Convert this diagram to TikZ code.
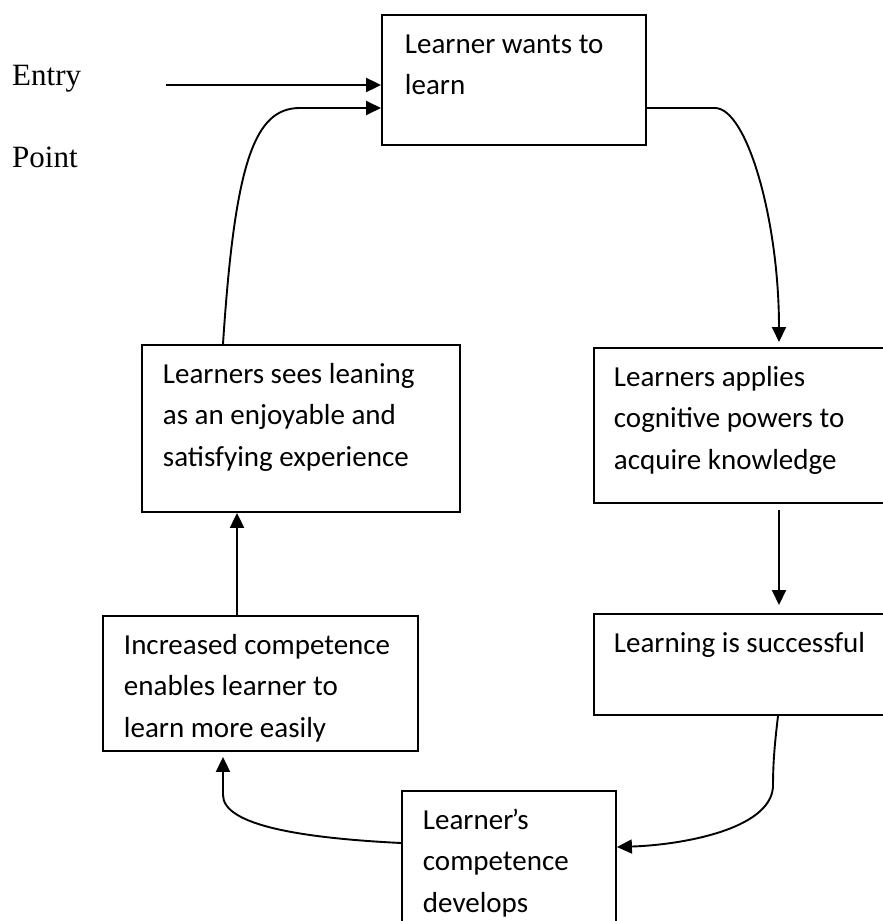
\documentclass[tikz,border=0pt]{standalone}
\usepackage{fontspec}
\newfontfamily\boxfont{Carlito}
\newfontfamily\labelfont{Liberation Serif}
\usetikzlibrary{arrows.meta}

% Box contents: width, height, left padding, text (first baseline 38.5pt below the top)
\newcommand\boxbody[4]{%
  \begin{minipage}[t][#2pt][t]{#1pt}%
    \boxfont\fontsize{29pt}{41.5pt}\selectfont\raggedright
    \leftskip=#3pt\relax
    \rule{0pt}{38.5pt}#4%
  \end{minipage}}

\begin{document}
\begin{tikzpicture}[x=1pt,y=-1pt,
  stage/.style={draw, line width=1.9pt, inner sep=0pt, anchor=north west},
  link/.style={line width=1.9pt, -{Triangle[length=15pt,width=14pt]}},
  entrylink/.style={line width=2.4pt, -{Triangle[length=15pt,width=14pt]}},
  side/.style={font=\labelfont\fontsize{31pt}{37pt}\selectfont, inner sep=0pt, anchor=base west}]

\useasboundingbox (0,0) rectangle (883,921);
\clip (0,0) rectangle (883,921);

% stages of the cycle
\node[stage] (want)      at (381,14)  {\boxbody{264}{130}{23}{Learner wants to\\learn}};
\node[stage] (apply)     at (593,347) {\boxbody{310}{155}{20}{Learners applies\\cognitive powers to\\acquire knowledge}};
\node[stage] (success)   at (593,613) {\boxbody{310}{101}{20}{Learning is successful}};
\node[stage] (develops)  at (401,790) {\boxbody{214}{160}{21}{Learner\kern-1.5pt’s\\competence\\develops}};
\node[stage] (increased) at (102,615) {\boxbody{315}{135}{21}{Increased competence\\enables learner to\\learn more easily}};
\node[stage] (sees)      at (141,344) {\boxbody{318}{167}{21}{Learners sees leaning\\as an enjoyable and\\satisfying experience}};

% entry point
\node[side] (entrytxt) at (12,85)  {Entry};
\node[side] (pointtxt) at (12,167) {Point};
\coordinate (entrystart) at (166,85);
\draw[entrylink] (entrystart) -- ([yshift=-71pt]want.north west);

% connectors around the cycle
\draw[link] ([yshift=-94pt]want.north east) -- ++(68,0)
  .. controls ++(32,0) and (779,220) .. ([xshift=186pt,yshift=5pt]apply.north west);
\draw[link] ([xshift=186pt,yshift=-6pt]apply.south west) -- ([xshift=186pt,yshift=8pt]success.north west);
\draw[link] ([xshift=185pt]success.south west)
  .. controls ++(-3,26) and (773,760) .. (773,787)
  .. controls (770,830) and (680,845) .. ([yshift=-57pt]develops.north east);
\draw[link] ([yshift=-53pt]develops.north west)
  .. controls (300,838) and (223,825) .. (223,795)
  -- ([xshift=121pt,yshift=-5pt]increased.south west);
\draw[link] ([xshift=135pt]increased.north west) -- ([xshift=96pt]sees.south west);
\draw[link] ([xshift=82pt]sees.north west)
  .. controls (235,160) and (255,108) .. (300,108)
  -- ([yshift=-94pt]want.north west);

\end{tikzpicture}
\end{document}
